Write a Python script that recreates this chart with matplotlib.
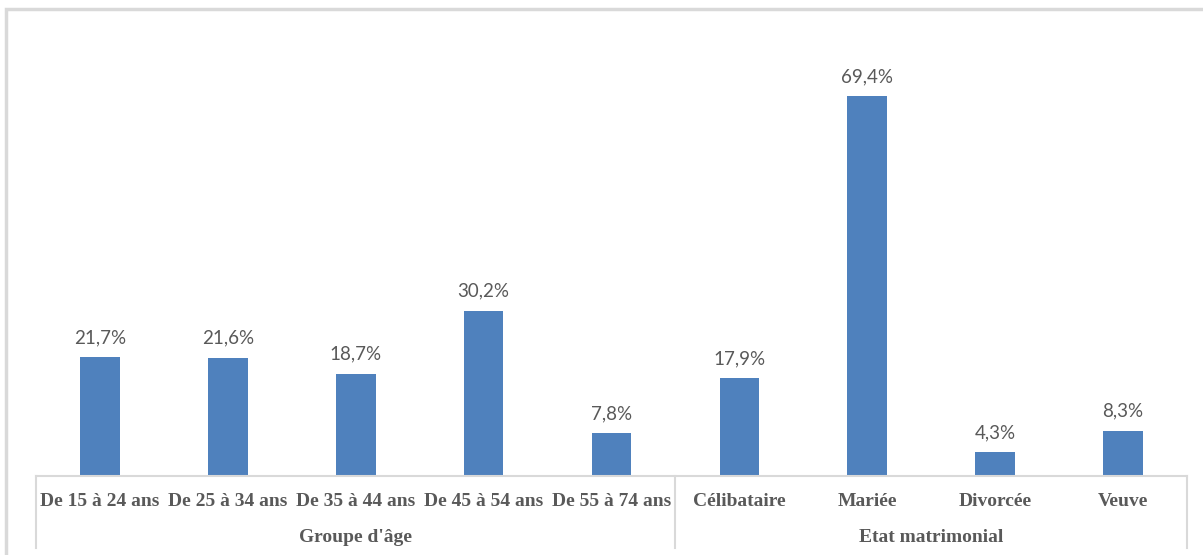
import matplotlib.pyplot as plt
from matplotlib.patches import Rectangle
from matplotlib.lines import Line2D

# données
categories = ["De 15 à 24 ans", "De 25 à 34 ans", "De 35 à 44 ans", "De 45 à 54 ans",
              "De 55 à 74 ans", "Célibataire", "Mariée", "Divorcée", "Veuve"]
values = [21.7, 21.6, 18.7, 30.2, 7.8, 17.9, 69.4, 4.3, 8.3]
groups = ["Groupe d'âge", "Etat matrimonial"]
group_sizes = [5, 4]

W, H = 1203, 555
fig = plt.figure(figsize=(W / 100, H / 100), dpi=100)

# cadre gris clair autour du graphique
fig.patches.append(Rectangle((6 / W, -0.05), 1.2, 1 - 9 / H + 0.05, transform=fig.transFigure,
                             fill=False, edgecolor="#d9d9d9", linewidth=2.5))

left, right = 36 / W, 1187 / W
bottom, top = 1 - 476 / H, 1 - 20 / H
ax = fig.add_axes([left, bottom, right - left, top - bottom])

x = range(len(values))
ax.bar(x, values, width=0.31, color="#4F81BD")
ax.set_xlim(-0.5, len(values) - 0.5)
ax.set_ylim(0, 456 / 5.476)

for xi, v in zip(x, values):
    ax.text(xi, v + 2.0, f"{v:.1f}%".replace(".", ","), ha="center", va="bottom",
            fontsize=13.5, color="#595959", family=["Lato", "DejaVu Sans"])

ax.set_xticks([])
ax.set_yticks([])
for s in ax.spines.values():
    s.set_visible(False)

# axe et séparateurs des groupes
line_col = "#d9d9d9"
fig.add_artist(Line2D([left, right], [bottom, bottom], color=line_col, lw=1.5))
sep_bottom = 1 - 548 / H
edges = [0]
for n in group_sizes:
    edges.append(edges[-1] + n)
slot = (right - left) / len(values)
for e in edges:
    xe = left + e * slot
    fig.add_artist(Line2D([xe, xe], [sep_bottom, bottom], color=line_col, lw=1.5))

for i, c in enumerate(categories):
    fig.text(left + (i + 0.5) * slot, 1 - 502 / H, c, ha="center", va="center",
             fontsize=14, fontweight="bold", color="#595959", family="Liberation Serif")

for g, a, b in zip(groups, edges[:-1], edges[1:]):
    fig.text(left + (a + b) / 2 * slot, 1 - 537 / H, g, ha="center", va="center",
             fontsize=14, fontweight="bold", color="#595959", family="Liberation Serif")

fig.savefig("out.png", dpi=100)
